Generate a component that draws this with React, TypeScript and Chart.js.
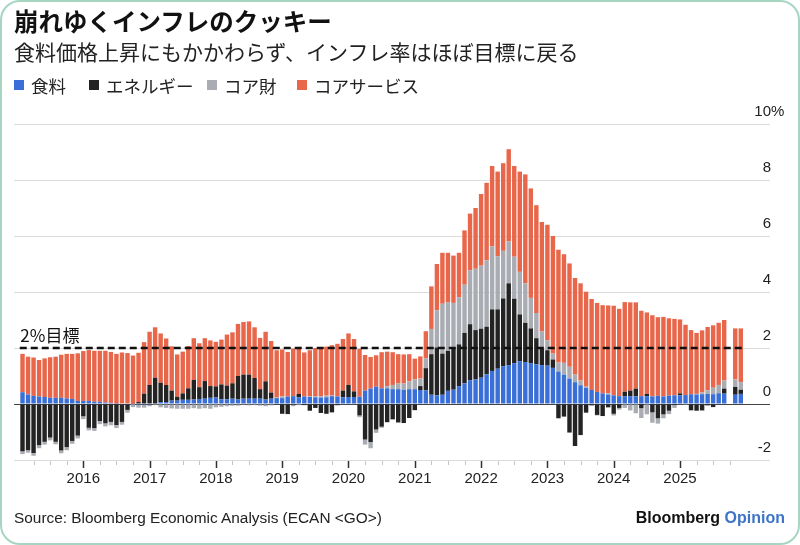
import React, { useEffect, useRef } from 'react';
import { Chart, registerables } from 'chart.js';
Chart.register(...registerables);

// month index: 0 = Jan 2015; first bar = Feb 2015, last = Dec 2025 (Oct 2025 missing)
const firstMonthIndex = 1;

const food = [
  0.42, 0.34, 0.29, 0.27, 0.25, 0.22, 0.22, 0.22, 0.20, 0.18, 0.11,
  0.11, 0.11, 0.08, 0.08, 0.05, 0.04, 0.01, -0.01, -0.01, -0.01, -0.03, -0.03,
  -0.03, 0.00, 0.07, 0.07, 0.12, 0.12, 0.15, 0.15, 0.16, 0.18, 0.19, 0.22,
  0.23, 0.17, 0.17, 0.19, 0.16, 0.19, 0.19, 0.19, 0.19, 0.16, 0.19, 0.21,
  0.21, 0.27, 0.28, 0.24, 0.27, 0.25, 0.24, 0.23, 0.24, 0.28, 0.27, 0.24,
  0.25, 0.25, 0.26, 0.48, 0.55, 0.62, 0.56, 0.56, 0.53, 0.53, 0.51, 0.53,
  0.53, 0.50, 0.49, 0.33, 0.31, 0.33, 0.47, 0.51, 0.64, 0.74, 0.85, 0.88,
  0.94, 1.06, 1.18, 1.26, 1.35, 1.39, 1.46, 1.53, 1.50, 1.46, 1.42, 1.39,
  1.37, 1.29, 1.16, 1.05, 0.91, 0.78, 0.67, 0.58, 0.50, 0.43, 0.38, 0.34,
  0.31, 0.28, 0.28, 0.28, 0.27, 0.28, 0.28, 0.27, 0.29, 0.27, 0.30, 0.31,
  0.31, 0.32, 0.35, 0.34, 0.35, 0.36, 0.35, 0.38, 0.37, null, 0.33, 0.36,
];

const energy = [
  -1.69, -1.65, -1.75, -1.47, -1.35, -1.20, -1.35, -1.66, -1.54, -1.32, -1.13,
  -0.44, -0.85, -0.86, -0.61, -0.69, -0.64, -0.75, -0.63, -0.20, 0.01, 0.07, 0.37,
  0.68, 0.94, 0.69, 0.61, 0.36, 0.14, 0.23, 0.41, 0.70, 0.42, 0.63, 0.42,
  0.40, 0.53, 0.49, 0.55, 0.84, 0.86, 0.86, 0.74, 0.34, 0.65, 0.22, -0.02,
  -0.35, -0.36, -0.03, 0.12, -0.04, -0.24, -0.14, -0.32, -0.35, -0.30, -0.04, 0.24,
  0.43, 0.20, -0.41, -1.27, -1.36, -0.91, -0.81, -0.65, -0.55, -0.66, -0.68, -0.50,
  -0.22, 0.14, 0.79, 1.45, 1.71, 1.47, 1.43, 1.50, 1.49, 1.80, 2.00, 1.76,
  1.75, 1.70, 2.20, 2.12, 2.42, 2.92, 2.30, 1.67, 1.40, 1.24, 0.93, 0.60,
  0.55, 0.30, -0.51, -0.45, -1.02, -1.50, -1.11, -0.31, -0.05, -0.39, -0.43, -0.12,
  -0.35, -0.14, 0.16, 0.20, 0.28, -0.15, 0.08, -0.30, -0.51, -0.37, -0.24, -0.04,
  0.07, -0.01, -0.22, -0.24, -0.23, -0.05, -0.11, 0.01, 0.18, null, 0.28, 0.15,
];

const coreGoods = [
  -0.10, -0.09, -0.10, -0.11, -0.10, -0.10, -0.09, -0.10, -0.11, -0.10, -0.10,
  -0.10, -0.09, -0.10, -0.11, -0.11, -0.12, -0.11, -0.10, -0.10, -0.10, -0.10, -0.10,
  -0.05, -0.04, -0.12, -0.14, -0.16, -0.17, -0.17, -0.17, -0.15, -0.17, -0.15, -0.17,
  -0.12, -0.10, -0.08, -0.06, -0.06, -0.03, -0.05, -0.04, -0.06, -0.08, -0.05, 0.02,
  0.06, 0.00, -0.05, -0.04, 0.00, 0.02, 0.04, 0.05, 0.06, 0.02, -0.01, -0.02,
  -0.02, -0.02, -0.06, -0.18, -0.22, -0.12, -0.04, 0.08, 0.15, 0.20, 0.22, 0.28,
  0.35, 0.27, 0.35, 0.90, 1.33, 1.78, 1.74, 1.60, 1.68, 1.72, 1.93, 2.19,
  2.25, 2.37, 2.25, 1.90, 1.70, 1.50, 1.50, 1.52, 1.41, 1.09, 0.90, 0.60,
  0.35, 0.21, 0.32, 0.42, 0.42, 0.27, 0.17, 0.04, 0.00, -0.02, 0.00, 0.04,
  -0.06, -0.06, -0.14, -0.23, -0.33, -0.35, -0.37, -0.37, -0.19, -0.14, -0.12, -0.10,
  -0.02, -0.02, -0.02, 0.02, 0.06, 0.13, 0.23, 0.29, 0.29, null, 0.27, 0.27,
];

const coreServices = [
  1.37, 1.35, 1.37, 1.30, 1.38, 1.45, 1.47, 1.54, 1.59, 1.61, 1.70,
  1.78, 1.82, 1.82, 1.82, 1.85, 1.82, 1.78, 1.84, 1.82, 1.72, 1.76, 1.84,
  1.90, 1.80, 1.76, 1.66, 1.58, 1.51, 1.49, 1.51, 1.49, 1.57, 1.53, 1.63,
  1.59, 1.60, 1.82, 1.82, 1.86, 1.88, 1.90, 1.81, 1.83, 1.77, 1.84, 1.69,
  1.68, 1.59, 1.70, 1.68, 1.57, 1.65, 1.72, 1.74, 1.75, 1.80, 1.88, 1.84,
  1.84, 1.87, 1.71, 1.27, 1.13, 1.12, 1.29, 1.23, 1.17, 1.05, 1.04, 0.97,
  0.74, 0.79, 0.97, 1.52, 1.65, 1.82, 1.76, 1.69, 1.59, 1.94, 2.02, 2.17,
  2.56, 2.77, 2.87, 3.02, 3.13, 3.29, 3.24, 3.58, 3.89, 3.91, 3.85, 3.91,
  4.13, 4.20, 4.03, 3.88, 3.69, 3.45, 3.47, 3.39, 3.25, 3.18, 3.15, 3.14,
  3.20, 3.12, 3.20, 3.15, 3.08, 3.05, 2.91, 2.90, 2.81, 2.84, 2.76, 2.73,
  2.64, 2.51, 2.29, 2.18, 2.22, 2.26, 2.23, 2.22, 2.16, null, 1.82, 1.92,
];

const seriesNames = ['食料', 'エネルギー', 'コア財', 'コアサービス'];
const seriesColors = ['#3a6fd8', '#232323', '#a9adb3', '#e8664a'];
const yearLabels = ['2016', '2017', '2018', '2019', '2020', '2021', '2022', '2023', '2024', '2025'];
const yTicks = [-2, 0, 2, 4, 6, 8, 10];
const yTickLabels = ['-2', '0', '2', '4', '6', '8', '10%'];
const targetValue = 2;
const targetLabel = '2%目標';

const TITLE = '崩れゆくインフレのクッキー';
const SUBTITLE = '食料価格上昇にもかかわらず、インフレ率はほぼ目標に戻る';
const SOURCE = 'Source: Bloomberg Economic Analysis (ECAN <GO>)';

const CJK = '"Noto Sans CJK JP", "Noto Sans", sans-serif';
const LATIN = '"Liberation Sans", Arial, sans-serif';

function toPoints(values: (number | null)[]) {
  const pts: { x: number; y: number }[] = [];
  values.forEach((v, i) => {
    if (v !== null) pts.push({ x: firstMonthIndex + i, y: v });
  });
  return pts;
}

const overlayPlugin = {
  id: 'overlay',
  afterDatasetsDraw(chart: any) {
    const { ctx, chartArea, scales } = chart;
    const x = scales.x;
    const y = scales.y;
    const lastIndex = firstMonthIndex + food.length - 1;
    ctx.save();
    // target line
    const yt = y.getPixelForValue(targetValue);
    ctx.setLineDash([7, 4]);
    ctx.lineWidth = 2.5;
    ctx.strokeStyle = '#111';
    ctx.beginPath();
    ctx.moveTo(x.getPixelForValue(firstMonthIndex - 0.5), yt);
    ctx.lineTo(x.getPixelForValue(lastIndex + 0.3), yt);
    ctx.stroke();
    ctx.setLineDash([]);
    ctx.fillStyle = '#111';
    ctx.font = `17px ${CJK}`;
    ctx.textAlign = 'left';
    ctx.textBaseline = 'alphabetic';
    ctx.fillText(targetLabel, x.getPixelForValue(firstMonthIndex - 0.4), yt - 6);

    // y labels (above grid lines, right side)
    ctx.font = `15px ${LATIN}`;
    ctx.fillStyle = '#222';
    ctx.textBaseline = 'middle';
    const anchor = chartArea.right + 1;
    yTicks.forEach((v, i) => {
      const py = y.getPixelForValue(v) - 12;
      const m = yTickLabels[i].match(/^(-?\d+)(.*)$/);
      const num = m ? m[1] : yTickLabels[i];
      const suf = m ? m[2] : '';
      ctx.textAlign = 'right';
      ctx.fillText(num, anchor, py);
      if (suf) {
        ctx.textAlign = 'left';
        ctx.fillText(suf, anchor, py);
      }
    });

    // x ticks
    const base = chartArea.bottom;
    for (let idx = 3; idx <= lastIndex; idx += 3) {
      const px = Math.round(x.getPixelForValue(idx)) + 0.5;
      const major = idx % 12 === 0;
      ctx.beginPath();
      ctx.strokeStyle = major ? '#333' : '#c4c4c4';
      ctx.lineWidth = major ? 1.5 : 1;
      ctx.moveTo(px, base + 1);
      ctx.lineTo(px, base + (major ? 8 : 5));
      ctx.stroke();
    }
    ctx.font = `15px ${LATIN}`;
    ctx.fillStyle = '#222';
    ctx.textAlign = 'center';
    ctx.textBaseline = 'middle';
    yearLabels.forEach((lab) => {
      const idx = (parseInt(lab, 10) - 2015) * 12;
      ctx.fillText(lab, x.getPixelForValue(idx), base + 19);
    });
    ctx.restore();
  },
};

export default function App() {
  const ref = useRef<HTMLCanvasElement | null>(null);

  useEffect(() => {
    if (!ref.current) return;
    const datasets = [food, energy, coreGoods, coreServices].map((vals, i) => ({
      label: seriesNames[i],
      data: toPoints(vals),
      backgroundColor: seriesColors[i],
      borderWidth: 0,
      barPercentage: 0.8,
      categoryPercentage: 1,
    }));
    const chart = new Chart(ref.current, {
      type: 'bar',
      data: { datasets },
      options: {
        animation: false,
        responsive: false,
        maintainAspectRatio: false,
        devicePixelRatio: 1,
        layout: { padding: { left: 14, right: 30, top: 124, bottom: 85 } },
        plugins: { legend: { display: false }, tooltip: { enabled: false } },
        scales: {
          x: {
            type: 'linear',
            stacked: true,
            offset: false,
            min: -0.54,
            max: 136.29,
            display: false,
          },
          y: {
            stacked: true,
            position: 'right',
            min: -2,
            max: 10,
            ticks: { display: false, stepSize: 2 },
            border: { display: false },
            grid: {
              drawTicks: false,
              color: (c: any) => (c.tick && c.tick.value === 0 ? '#444' : '#dcdcdc'),
              lineWidth: 1,
            },
          },
        },
      } as any,
      plugins: [overlayPlugin],
    });
    return () => chart.destroy();
  }, []);

  const legendPos = [14, 89, 207, 297];

  return (
    <div
      style={{
        position: 'absolute',
        left: 0,
        top: 0,
        width: 800,
        height: 545,
        background: '#fff',
        overflow: 'hidden',
      }}
    >
      <canvas ref={ref} width={800} height={545} style={{ position: 'absolute', left: 0, top: 0 }} />
      <div
        style={{
          position: 'absolute',
          left: 14,
          top: 7,
          fontFamily: CJK,
          fontWeight: 700,
          fontSize: 24.5,
          lineHeight: '27px',
          color: '#111',
          whiteSpace: 'nowrap',
        }}
      >
        {TITLE}
      </div>
      <div
        style={{
          position: 'absolute',
          left: 14,
          top: 40,
          fontFamily: CJK,
          fontSize: 21,
          lineHeight: '23px',
          color: '#222',
          whiteSpace: 'nowrap',
        }}
      >
        {SUBTITLE}
      </div>
      {seriesNames.map((name, i) => (
        <div
          key={name}
          style={{
            position: 'absolute',
            left: legendPos[i],
            top: 75,
            height: 20,
            display: 'flex',
            alignItems: 'center',
            fontFamily: CJK,
            fontSize: 17.5,
            color: '#222',
            whiteSpace: 'nowrap',
          }}
        >
          <span
            style={{
              display: 'inline-block',
              width: 10,
              height: 10,
              background: seriesColors[i],
              marginRight: 7,
            }}
          />
          {name}
        </div>
      ))}
      <div
        style={{
          position: 'absolute',
          left: 14,
          top: 509,
          fontFamily: LATIN,
          fontSize: 15.4,
          lineHeight: '18px',
          color: '#222',
          whiteSpace: 'nowrap',
        }}
      >
        {SOURCE}
      </div>
      <div
        style={{
          position: 'absolute',
          right: 15,
          top: 508,
          fontFamily: LATIN,
          fontSize: 16,
          lineHeight: '20px',
          fontWeight: 700,
          whiteSpace: 'nowrap',
        }}
      >
        <span style={{ color: '#111' }}>Bloomberg</span>{' '}
        <span style={{ color: '#3d74c8' }}>Opinion</span>
      </div>
      <div
        style={{
          position: 'absolute',
          left: 0,
          top: 0,
          width: 800,
          height: 545,
          boxSizing: 'border-box',
          border: '2px solid #a6d6c1',
          borderRadius: 20,
          pointerEvents: 'none',
        }}
      />
    </div>
  );
}
